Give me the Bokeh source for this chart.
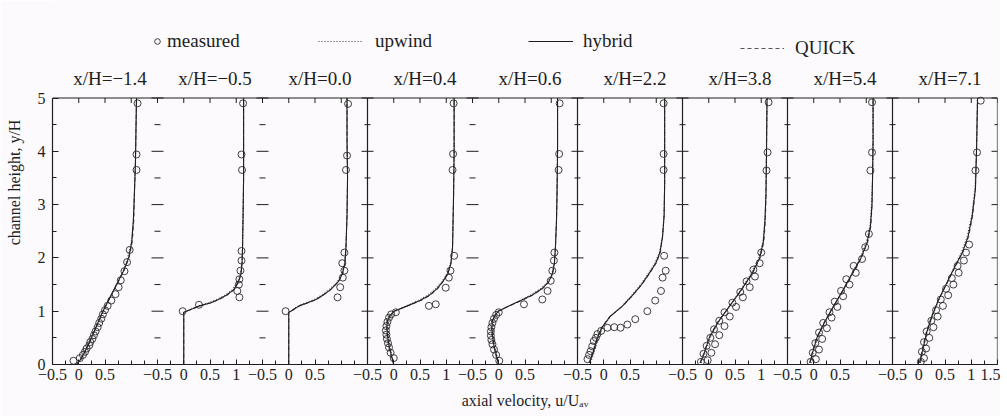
from bokeh.plotting import figure
from bokeh.models import Range1d, LinearAxis, FixedTicker, Label, Legend, LegendItem
from bokeh.embed import file_html
from bokeh.resources import INLINE

# ---------------- data ----------------
TITLES = ["x/H=−1.4", "x/H=−0.5", "x/H=0.0", "x/H=0.4", "x/H=0.6",
          "x/H=2.2", "x/H=3.8", "x/H=5.4", "x/H=7.1"]
U_TICKS = [-0.5, 0, 0.5, 1, 1.5]
U_TICK_LABELS = [
    ["−0.5", "0", "0.5", "", ""],
    ["−0.5", "0", "0.5", "1", ""],
    ["−0.5", "0", "0.5", "", ""],
    ["−0.5", "0", "0.5", "1", ""],
    ["−0.5", "0", "0.5", "", ""],
    ["−0.5", "0", "0.5", "", ""],
    ["−0.5", "0", "0.5", "1", ""],
    ["−0.5", "0", "0.5", "", ""],
    ["−0.5", "0", "0.5", "1", "1.5"],
]
U_MINOR = [-0.25, 0.25, 0.75, 1.25]
Y_TICKS = [0, 1, 2, 3, 4, 5]
Y_MINOR = [0.5, 1.5, 2.5, 3.5, 4.5]
SOLID_EDGES = [3, 5, 6, 7, 8]   # panels whose left border line survives in the scan
X_LABEL = "axial velocity, u/Uₐᵥ"
Y_LABEL = "channel height, y/H"

# panel 1  x/H=-1.4
p1_meas_u = [-0.1, 0.02, 0.08, 0.12, 0.15, 0.2, 0.22, 0.26, 0.29, 0.32, 0.36, 0.39, 0.43, 0.46,
             0.5, 0.55, 0.62, 0.7, 0.76, 0.8, 0.87, 0.92, 0.97, 1.1, 1.1, 1.12]
p1_meas_y = [0.07, 0.12, 0.18, 0.24, 0.3, 0.36, 0.42, 0.48, 0.55, 0.62, 0.7, 0.78, 0.86, 0.94,
             1.02, 1.1, 1.2, 1.32, 1.45, 1.58, 1.75, 1.92, 2.15, 3.65, 3.94, 4.9]
p1_y = [0, 0.1, 0.3, 0.5, 0.75, 1.0, 1.25, 1.5, 1.75, 2.0, 2.3, 2.7, 3.2, 3.8, 4.4, 5.0]
p1_hybrid = [-0.04, 0.04, 0.15, 0.24, 0.35, 0.46, 0.59, 0.72, 0.85, 0.95, 1.01, 1.04, 1.06, 1.08, 1.09, 1.1]
p1_upwind = [-0.03, 0.05, 0.16, 0.25, 0.36, 0.47, 0.6, 0.72, 0.84, 0.93, 1.0, 1.04, 1.06, 1.08, 1.09, 1.1]
p1_quick = [-0.05, 0.03, 0.14, 0.24, 0.35, 0.46, 0.59, 0.73, 0.86, 0.96, 1.02, 1.05, 1.06, 1.08, 1.09, 1.1]

# panel 2  x/H=-0.5
p2_meas_u = [-0.02, 0.29, 1.06, 1.02, 1.05, 1.06, 1.08, 1.1, 1.1, 1.11, 1.1, 1.13]
p2_meas_y = [1.0, 1.12, 1.26, 1.38, 1.5, 1.6, 1.76, 1.95, 2.13, 3.65, 3.94, 4.9]
p2_y = [0, 0.5, 0.98, 1.0, 1.05, 1.1, 1.16, 1.22, 1.3, 1.4, 1.55, 1.7, 1.9, 2.2, 2.8, 3.5, 4.2, 5.0]
p2_hybrid = [0, 0, 0, 0.05, 0.18, 0.3, 0.52, 0.66, 0.81, 0.95, 1.04, 1.09, 1.11, 1.12, 1.13, 1.14, 1.14, 1.14]
p2_upwind = [0, 0, 0, 0.05, 0.16, 0.27, 0.47, 0.62, 0.78, 0.92, 1.02, 1.08, 1.11, 1.12, 1.13, 1.14, 1.14, 1.14]
p2_quick = [0, 0, 0, 0.06, 0.19, 0.32, 0.53, 0.68, 0.83, 0.96, 1.05, 1.09, 1.11, 1.12, 1.13, 1.14, 1.14, 1.14]

# panel 3  x/H=0.0
p3_meas_u = [-0.06, 0.93, 0.98, 1.03, 1.06, 1.02, 1.06, 1.09, 1.11, 1.13]
p3_meas_y = [1.0, 1.26, 1.45, 1.63, 1.76, 1.9, 2.1, 3.65, 3.92, 4.89]
p3_y = [0, 0.5, 0.98, 1.0, 1.05, 1.1, 1.16, 1.22, 1.3, 1.4, 1.55, 1.7, 1.9, 2.2, 2.8, 3.5, 4.2, 5.0]
p3_hybrid = [0, 0, 0, 0.04, 0.12, 0.2, 0.36, 0.52, 0.65, 0.79, 0.94, 1.02, 1.07, 1.09, 1.11, 1.12, 1.11, 1.11]
p3_upwind = [0, 0, 0, 0.04, 0.1, 0.18, 0.33, 0.48, 0.62, 0.76, 0.92, 1.01, 1.06, 1.09, 1.11, 1.12, 1.11, 1.11]
p3_quick = [0, 0, 0, 0.05, 0.13, 0.21, 0.38, 0.53, 0.66, 0.8, 0.95, 1.03, 1.07, 1.09, 1.11, 1.12, 1.11, 1.11]

# panel 4  x/H=0.4
p4_meas_u = [0.0, -0.06, -0.09, -0.11, -0.13, -0.14, -0.15, -0.14, -0.12, -0.09, -0.05, 0.04,
             0.67, 0.8, 0.99, 1.05, 1.08, 1.15, 1.12, 1.13, 1.14]
p4_meas_y = [0.12, 0.22, 0.32, 0.4, 0.48, 0.56, 0.64, 0.72, 0.8, 0.88, 0.94, 0.98,
             1.1, 1.13, 1.44, 1.63, 1.76, 2.04, 3.65, 3.95, 4.9]
p4_y = [0, 0.15, 0.35, 0.55, 0.7, 0.82, 0.92, 1.0, 1.1, 1.2, 1.3, 1.42, 1.55, 1.7, 1.9, 2.2, 2.7, 3.2, 4.0, 5.0]
p4_hybrid = [0, -0.04, -0.09, -0.12, -0.13, -0.12, -0.07, 0.01, 0.26, 0.5, 0.68, 0.82, 0.93, 1.03,
             1.09, 1.12, 1.13, 1.14, 1.15, 1.15]
p4_upwind = [0, -0.03, -0.07, -0.1, -0.11, -0.1, -0.05, 0.03, 0.24, 0.46, 0.64, 0.79, 0.91, 1.01,
             1.08, 1.12, 1.13, 1.14, 1.15, 1.15]
p4_quick = [0, -0.05, -0.1, -0.13, -0.14, -0.13, -0.08, 0.0, 0.27, 0.52, 0.7, 0.84, 0.94, 1.03,
            1.09, 1.12, 1.13, 1.14, 1.15, 1.15]

# panel 5  x/H=0.6
p5_meas_u = [0.01, -0.05, -0.09, -0.12, -0.14, -0.15, -0.15, -0.14, -0.12, -0.09, -0.05, 0.0,
             0.48, 0.83, 0.93, 0.99, 1.02, 1.05, 1.06, 1.14, 1.15, 1.16]
p5_meas_y = [0.07, 0.18, 0.28, 0.38, 0.46, 0.54, 0.62, 0.7, 0.78, 0.86, 0.93, 0.98,
             1.13, 1.22, 1.38, 1.57, 1.76, 1.95, 2.1, 3.65, 3.95, 4.9]
p5_y = [0, 0.15, 0.35, 0.55, 0.7, 0.82, 0.92, 1.0, 1.1, 1.2, 1.3, 1.42, 1.55, 1.7, 1.9, 2.2, 2.7, 3.2, 4.0, 5.0]
p5_hybrid = [0, -0.04, -0.09, -0.12, -0.13, -0.12, -0.07, -0.01, 0.2, 0.42, 0.63, 0.82, 0.95, 1.02,
             1.06, 1.08, 1.1, 1.11, 1.12, 1.12]
p5_upwind = [0, -0.03, -0.07, -0.1, -0.11, -0.1, -0.05, 0.02, 0.2, 0.4, 0.6, 0.79, 0.93, 1.01,
             1.06, 1.08, 1.1, 1.11, 1.12, 1.12]
p5_quick = [0, -0.05, -0.1, -0.13, -0.14, -0.13, -0.08, -0.02, 0.21, 0.44, 0.65, 0.84, 0.96, 1.03,
            1.06, 1.08, 1.1, 1.11, 1.12, 1.12]

# panel 6  x/H=2.2
p6_meas_u = [-0.31, -0.28, -0.25, -0.22, -0.19, -0.15, -0.12, -0.05, 0.07, 0.2, 0.32, 0.45, 0.6,
             0.83, 0.98, 1.09, 1.12, 1.18, 1.15, 1.14, 1.14, 1.14]
p6_meas_y = [0.1, 0.18, 0.25, 0.34, 0.44, 0.5, 0.57, 0.63, 0.69, 0.7, 0.69, 0.75, 0.85,
             1.0, 1.2, 1.38, 1.63, 1.76, 2.04, 3.65, 3.95, 4.9]
p6_y = [0.03, 0.15, 0.3, 0.5, 0.7, 0.9, 1.1, 1.3, 1.5, 1.7, 1.9, 2.1, 2.4, 2.8, 3.4, 4.2, 5.0]
p6_hybrid = [-0.27, -0.23, -0.18, -0.12, -0.03, 0.12, 0.36, 0.55, 0.72, 0.86, 0.99, 1.07, 1.12,
             1.15, 1.16, 1.16, 1.16]
p6_upwind = [-0.25, -0.21, -0.16, -0.1, -0.01, 0.13, 0.35, 0.53, 0.7, 0.84, 0.97, 1.06, 1.12,
             1.15, 1.16, 1.16, 1.16]
p6_quick = [-0.28, -0.24, -0.19, -0.13, -0.04, 0.11, 0.37, 0.56, 0.73, 0.87, 1.0, 1.08, 1.12,
            1.15, 1.16, 1.16, 1.16]

# panel 7  x/H=3.8
p7_meas_u = [-0.15, -0.02, -0.1, 0.05, -0.04, 0.12, 0.03, 0.2, 0.1, 0.3, 0.2, 0.4, 0.3, 0.52,
             0.45, 0.65, 0.6, 0.78, 0.72, 0.88, 0.85, 0.97, 1.0, 1.1, 1.12, 1.14]
p7_meas_y = [0.05, 0.08, 0.2, 0.22, 0.35, 0.38, 0.5, 0.55, 0.66, 0.72, 0.82, 0.9, 0.98, 1.08,
             1.16, 1.26, 1.36, 1.45, 1.56, 1.65, 1.78, 1.9, 2.1, 3.64, 3.98, 4.92]
p7_y = [0.03, 0.2, 0.5, 0.8, 1.1, 1.4, 1.7, 2.0, 2.3, 2.7, 3.2, 4.0, 5.0]
p7_hybrid = [-0.16, -0.09, 0.01, 0.18, 0.4, 0.62, 0.82, 0.97, 1.04, 1.07, 1.09, 1.1, 1.11]
p7_upwind = [-0.14, -0.07, 0.03, 0.19, 0.4, 0.61, 0.8, 0.95, 1.03, 1.07, 1.09, 1.1, 1.11]
p7_quick = [-0.17, -0.1, 0.0, 0.17, 0.4, 0.63, 0.83, 0.98, 1.05, 1.08, 1.09, 1.1, 1.11]

# panel 8  x/H=5.4
p8_meas_u = [-0.06, 0.04, -0.02, 0.1, 0.03, 0.16, 0.1, 0.25, 0.18, 0.34, 0.3, 0.45, 0.4, 0.56,
             0.52, 0.68, 0.62, 0.8, 0.76, 0.92, 0.98, 1.05, 1.08, 1.11, 1.11]
p8_meas_y = [0.05, 0.1, 0.22, 0.28, 0.4, 0.48, 0.6, 0.68, 0.78, 0.88, 0.98, 1.08, 1.18, 1.28,
             1.38, 1.5, 1.6, 1.72, 1.85, 1.98, 2.2, 2.45, 3.64, 3.98, 4.92]
p8_y = [0.03, 0.2, 0.5, 0.8, 1.1, 1.4, 1.7, 2.0, 2.3, 2.6, 3.0, 3.5, 4.2, 5.0]
p8_hybrid = [-0.07, -0.03, 0.06, 0.21, 0.38, 0.56, 0.73, 0.9, 1.02, 1.08, 1.11, 1.12, 1.13, 1.13]
p8_upwind = [-0.05, -0.01, 0.08, 0.22, 0.39, 0.56, 0.72, 0.88, 1.0, 1.07, 1.1, 1.12, 1.13, 1.13]
p8_quick = [-0.08, -0.04, 0.05, 0.2, 0.38, 0.57, 0.74, 0.91, 1.03, 1.09, 1.11, 1.12, 1.13, 1.13]

# panel 9  x/H=7.1
p9_meas_u = [0.04, 0.1, 0.06, 0.14, 0.1, 0.2, 0.15, 0.28, 0.24, 0.36, 0.33, 0.46, 0.42, 0.56,
             0.52, 0.66, 0.63, 0.76, 0.74, 0.86, 0.9, 0.96, 1.08, 1.11, 1.18]
p9_meas_y = [0.05, 0.12, 0.24, 0.3, 0.42, 0.5, 0.62, 0.7, 0.82, 0.9, 1.02, 1.1, 1.22, 1.3,
             1.42, 1.5, 1.62, 1.72, 1.85, 1.95, 2.1, 2.25, 3.64, 3.98, 4.95]
p9_y = [0.03, 0.3, 0.6, 0.9, 1.2, 1.5, 1.8, 2.1, 2.4, 2.8, 3.3, 4.0, 5.0]
p9_hybrid = [0.02, 0.08, 0.15, 0.25, 0.37, 0.52, 0.67, 0.83, 0.94, 1.02, 1.08, 1.1, 1.12]
p9_upwind = [0.03, 0.09, 0.16, 0.26, 0.38, 0.52, 0.66, 0.81, 0.92, 1.01, 1.07, 1.1, 1.12]
p9_quick = [0.01, 0.07, 0.14, 0.24, 0.37, 0.53, 0.68, 0.84, 0.95, 1.03, 1.08, 1.1, 1.12]

PANELS = [
    (p1_meas_u, p1_meas_y, p1_y, p1_upwind, p1_hybrid, p1_quick),
    (p2_meas_u, p2_meas_y, p2_y, p2_upwind, p2_hybrid, p2_quick),
    (p3_meas_u, p3_meas_y, p3_y, p3_upwind, p3_hybrid, p3_quick),
    (p4_meas_u, p4_meas_y, p4_y, p4_upwind, p4_hybrid, p4_quick),
    (p5_meas_u, p5_meas_y, p5_y, p5_upwind, p5_hybrid, p5_quick),
    (p6_meas_u, p6_meas_y, p6_y, p6_upwind, p6_hybrid, p6_quick),
    (p7_meas_u, p7_meas_y, p7_y, p7_upwind, p7_hybrid, p7_quick),
    (p8_meas_u, p8_meas_y, p8_y, p8_upwind, p8_hybrid, p8_quick),
    (p9_meas_u, p9_meas_y, p9_y, p9_upwind, p9_hybrid, p9_quick),
]

# ---------------- layout / style ----------------
U_MIN, U_MAX = U_TICKS[0], U_TICKS[-1]
PW = U_MAX - U_MIN
NP = len(TITLES)
Y0, Y1 = Y_TICKS[0], Y_TICKS[-1]
SERIF = "Liberation Serif"
INK = "#1e1e1e"
BG = "#fcfafc"

FIG_W, FIG_H = 1000, 416
B_LEFT, B_RIGHT, B_BOTTOM = 52, 3, 52
FRAME_W = FIG_W - B_LEFT - B_RIGHT          # 945 px for all panels
FRAME_H = FIG_H - B_BOTTOM                  # frame reaches the top of the figure
BOX_H = 266.5                               # px height of the panel boxes
PPU_X = FRAME_W / (NP * PW)
PPU_Y = BOX_H / (Y1 - Y0)
Y_TOP = Y0 + FRAME_H / PPU_Y                # room above the boxes for titles / legend


def gx(i, u):
    return i * PW + (u - U_MIN)


def y_above(px):
    """data y that lies px pixels above the top of the panel boxes"""
    return Y1 + px / PPU_Y


p = figure(width=FIG_W, height=FIG_H, output_backend="svg", toolbar_location=None,
           x_range=Range1d(0, NP * PW), y_range=Range1d(Y0, Y_TOP),
           min_border_left=B_LEFT, min_border_right=B_RIGHT, min_border_top=0,
           min_border_bottom=B_BOTTOM, x_axis_type=None, y_axis_type=None)
p.background_fill_color = BG
p.border_fill_color = BG
p.outline_line_color = None
p.grid.visible = False

# x ticks: labelled ones are majors, the rest minors
label_at = {}
for i in range(NP):
    for u, lab in zip(U_TICKS, U_TICK_LABELS[i]):
        g = gx(i, u)
        if lab:
            label_at[g] = lab
all_half = sorted({gx(i, u) for i in range(NP) for u in U_TICKS})
major_x = sorted(label_at)
minor_x = [g for g in all_half if g not in label_at] + [gx(i, u) for i in range(NP) for u in U_MINOR]
xticker = FixedTicker(ticks=major_x, minor_ticks=minor_x)
yticker = FixedTicker(ticks=Y_TICKS, minor_ticks=Y_MINOR)

xb = LinearAxis(ticker=xticker, major_label_overrides=label_at, axis_label=X_LABEL)
xb.major_tick_in, xb.major_tick_out = 5, 0
xb.minor_tick_in, xb.minor_tick_out = 4, 0
xb.major_label_standoff = 4
xb.major_label_text_font = SERIF
xb.major_label_text_font_size = "16px"
xb.major_label_text_color = INK
xb.axis_label_text_font = SERIF
xb.axis_label_text_font_size = "16px"
xb.axis_label_text_font_style = "normal"
xb.axis_label_text_color = INK
xb.axis_label_standoff = 9
xb.axis_line_color = INK
xb.axis_line_width = 1.2
xb.major_tick_line_color = INK
xb.minor_tick_line_color = INK
p.add_layout(xb, "below")

yl = LinearAxis(ticker=yticker, axis_label=Y_LABEL, bounds=(Y0, Y1))
yl.major_tick_in, yl.major_tick_out = 6, 0
yl.minor_tick_in, yl.minor_tick_out = 4, 0
yl.major_label_standoff = 7
yl.major_label_text_font = SERIF
yl.major_label_text_font_size = "16px"
yl.major_label_text_color = INK
yl.axis_label_text_font = SERIF
yl.axis_label_text_font_size = "16px"
yl.axis_label_text_font_style = "normal"
yl.axis_label_text_color = INK
yl.axis_label_standoff = 12
yl.axis_line_color = INK
yl.axis_line_width = 1.2
yl.major_tick_line_color = INK
yl.minor_tick_line_color = INK
p.add_layout(yl, "left")

# box top line and the surviving vertical borders
p.line([0, NP * PW], [Y1, Y1], line_color=INK, line_width=1.2)
vx = [gx(i, U_MIN) for i in SOLID_EDGES] + [NP * PW]
p.segment(x0=vx, y0=[Y0] * len(vx), x1=vx, y1=[Y1] * len(vx), line_color=INK, line_width=1.2)

# ticks along the top of the boxes (pointing down)
top_len = 5 / PPU_Y
p.segment(x0=all_half, y0=[Y1] * len(all_half), x1=all_half, y1=[Y1 - top_len] * len(all_half),
          line_color=INK, line_width=1)

# ticks across the panel borders
maj_half = 6 / PPU_X
min_half = 3 / PPU_X
edges = [gx(i, U_MIN) for i in range(1, NP)] + [NP * PW]
sx0, sx1, sy = [], [], []
for e in edges:
    for yv in Y_TICKS:
        sx0.append(e - maj_half); sx1.append(e + maj_half); sy.append(yv)
    for yv in Y_MINOR:
        sx0.append(e - min_half); sx1.append(e + min_half); sy.append(yv)
p.segment(x0=sx0, y0=sy, x1=sx1, y1=sy, line_color=INK, line_width=1)

# profiles
r_meas = r_up = r_hy = r_qk = None
for i, (mu, my, yy, up, hy, qk) in enumerate(PANELS):
    rq = p.line([gx(i, u) for u in qk], yy, line_color="#555555", line_width=1, line_dash="4 3")
    ru = p.line([gx(i, u) for u in up], yy, line_color="#333333", line_width=1, line_dash="1 2")
    rh = p.line([gx(i, u) for u in hy], yy, line_color=INK, line_width=1.1)
    rm = p.scatter([gx(i, u) for u in mu], my, marker="circle", size=7, fill_color=None,
                   line_color="#2a2a2a", line_width=0.9)
    if i == 0:
        r_meas, r_up, r_hy, r_qk = rm, ru, rh, rq
    p.add_layout(Label(x=gx(i, (U_MIN + U_MAX) / 2), y=y_above(19.5), x_offset=5,
                       text=TITLES[i], text_align="center", text_baseline="middle",
                       text_font=SERIF, text_font_size="19px", text_color=INK))


# legend: one small legend per entry, placed like the original
def small_legend(label, rend, gw, standoff, x_px, centre_px):
    lg = Legend(items=[LegendItem(label=label, renderers=[rend])],
                location=(x_px, BOX_H + centre_px - 8),
                orientation="horizontal", glyph_width=gw, glyph_height=16, label_height=16,
                label_standoff=standoff, padding=0, margin=0, border_line_color=None,
                background_fill_alpha=0, label_text_font=SERIF, label_text_font_size="19px",
                label_text_color=INK)
    p.add_layout(lg, "center")


small_legend("measured", r_meas, 14, 3, 98, 53.5)
small_legend("upwind", r_up, 44, 13, 266, 53.5)
small_legend("hybrid", r_hy, 45, 10, 476, 53.5)
small_legend("QUICK", r_qk, 44, 11, 688, 46.5)

open("out.html", "w").write(file_html(p, INLINE))
